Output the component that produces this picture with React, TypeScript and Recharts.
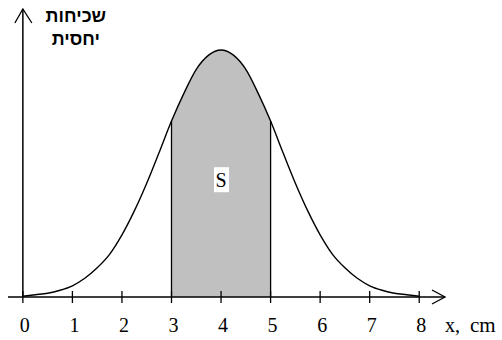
import React from "react";
import {
  ComposedChart,
  Area,
  Line,
  XAxis,
  YAxis,
  ReferenceLine,
  ReferenceDot,
} from "recharts";

// x positions (cm) and relative frequency of the bell curve
const xs = [
  0, 0.25, 0.5, 0.75, 1, 1.25, 1.5, 1.75, 2, 2.25, 2.5, 2.75, 3, 3.25, 3.5, 3.75,
  4, 4.25, 4.5, 4.75, 5, 5.25, 5.5, 5.75, 6, 6.25, 6.5, 6.75, 7, 7.25, 7.5, 7.75, 8,
];
const freq = [
  0.001, 0.003, 0.005, 0.009, 0.015, 0.025, 0.039, 0.057, 0.083, 0.115, 0.152, 0.193,
  0.235, 0.272, 0.304, 0.323, 0.33, 0.323, 0.304, 0.272, 0.235, 0.193, 0.152, 0.115,
  0.083, 0.057, 0.039, 0.025, 0.015, 0.009, 0.005, 0.003, 0.001,
];
const xTicks = [0, 1, 2, 3, 4, 5, 6, 7, 8];
const shadeFrom = 3;
const shadeTo = 5;
const yLabelLines = ["שכיחות", "יחסית"];
const xLabel = ["x,", "cm"];
const areaLabel = "S";

const X_DOMAIN: [number, number] = [-0.3, 8.5];
const Y_MAX = 0.386;
const SERIF = "'Liberation Serif', 'Times New Roman', serif";
const SANS = "'Liberation Sans', 'DejaVu Sans', Arial, sans-serif";

const data = xs.map((x, i) => ({ x, f: freq[i] }));

const fAt = (x: number) => freq[xs.indexOf(x)];

// gradient stops (fraction of the curve's width) that limit the grey fill to [shadeFrom, shadeTo]
const span = xs[xs.length - 1] - xs[0];
const stopA = (shadeFrom - xs[0]) / span;
const stopB = (shadeTo - xs[0]) / span;

const XTick = (props: any) => {
  const { x, y, payload } = props;
  return (
    <g>
      <line x1={x} x2={x} y1={y - 6} y2={y + 6} stroke="#000" strokeWidth={1.3} />
      <text x={x + 2} y={y + 35} textAnchor="middle" fontFamily={SERIF} fontSize={20} fill="#000">
        {payload.value}
      </text>
    </g>
  );
};

const XAxisLine = (props: any) => {
  const { x1, x2, y1 } = props;
  return (
    <g>
      <line x1={x1} x2={x2 + 1} y1={y1} y2={y1} stroke="#000" strokeWidth={1.5} />
      <polyline
        points={`${x2 - 12},${y1 - 7} ${x2 + 1},${y1} ${x2 - 12},${y1 + 7}`}
        fill="none"
        stroke="#000"
        strokeWidth={1.3}
      />
      <text x={x2 + 1} y={y1 + 35} fontFamily={SERIF} fontSize={20} fill="#000">
        {xLabel[0]}
      </text>
      <text x={x2 + 26} y={y1 + 35} fontFamily={SERIF} fontSize={21} fill="#000">
        {xLabel[1]}
      </text>
    </g>
  );
};

const YAxisLine = (props: any) => {
  const { x1, y1, y2 } = props;
  const top = Math.min(y1, y2);
  const bottom = Math.max(y1, y2);
  return (
    <g>
      <line x1={x1} x2={x1} y1={bottom} y2={top + 1} stroke="#000" strokeWidth={1.5} />
      <polyline
        points={`${x1 - 8},${top + 15} ${x1},${top + 1} ${x1 + 9},${top + 15}`}
        fill="none"
        stroke="#000"
        strokeWidth={1.3}
      />
      {yLabelLines.map((t, i) => (
        <text
          key={t}
          x={x1 + 53}
          y={top + 14 + i * 23}
          textAnchor="middle"
          direction="rtl"
          fontFamily={SANS}
          fontWeight="bold"
          fontSize={18}
          fill="#000"
        >
          {t}
        </text>
      ))}
    </g>
  );
};

const SBox = (props: any) => {
  const { cx, cy } = props;
  return (
    <g>
      <rect x={cx - 7} y={cy - 13} width={15} height={25} fill="#fff" />
      <text x={cx} y={cy + 7} textAnchor="middle" fontFamily={SERIF} fontSize={20} fill="#000">
        {areaLabel}
      </text>
    </g>
  );
};

export default function App() {
  return (
    <div style={{ position: "absolute", left: 0, top: 0, background: "#fff" }}>
      <svg width={0} height={0} style={{ position: "absolute" }}>
        <defs>
          <linearGradient id="shadeBand" x1="0" x2="1" y1="0" y2="0">
            <stop offset={stopA} stopColor="#c0c0c0" stopOpacity={0} />
            <stop offset={stopA} stopColor="#c0c0c0" stopOpacity={1} />
            <stop offset={stopB} stopColor="#c0c0c0" stopOpacity={1} />
            <stop offset={stopB} stopColor="#c0c0c0" stopOpacity={0} />
          </linearGradient>
        </defs>
      </svg>
      <ComposedChart
        width={502}
        height={340}
        data={data}
        margin={{ top: 8, right: 58, bottom: 0, left: 8 }}
      >
        <XAxis
          dataKey="x"
          type="number"
          domain={X_DOMAIN}
          ticks={xTicks}
          height={43}
          axisLine={false}
          tickLine={false}
          tickSize={0}
          tickMargin={0}
          tick={<XTick />}
          interval={0}
          allowDataOverflow
        />
        <YAxis hide type="number" domain={[0, Y_MAX]} allowDataOverflow />
        <Area
          dataKey="f"
          type="monotone"
          stroke="none"
          fill="url(#shadeBand)"
          fillOpacity={1}
          isAnimationActive={false}
        />
        <Line
          dataKey="f"
          type="monotone"
          stroke="#000"
          strokeWidth={1.4}
          dot={false}
          isAnimationActive={false}
        />
        <ReferenceLine
          segment={[
            { x: shadeFrom, y: 0 },
            { x: shadeFrom, y: fAt(shadeFrom) },
          ]}
          stroke="#000"
          strokeWidth={1.3}
        />
        <ReferenceLine
          segment={[
            { x: shadeTo, y: 0 },
            { x: shadeTo, y: fAt(shadeTo) },
          ]}
          stroke="#000"
          strokeWidth={1.3}
        />
        <ReferenceLine y={0} shape={<XAxisLine />} />
        <ReferenceLine x={0} shape={<YAxisLine />} />
        <ReferenceDot x={4} y={0.156} shape={<SBox />} />
      </ComposedChart>
    </div>
  );
}
